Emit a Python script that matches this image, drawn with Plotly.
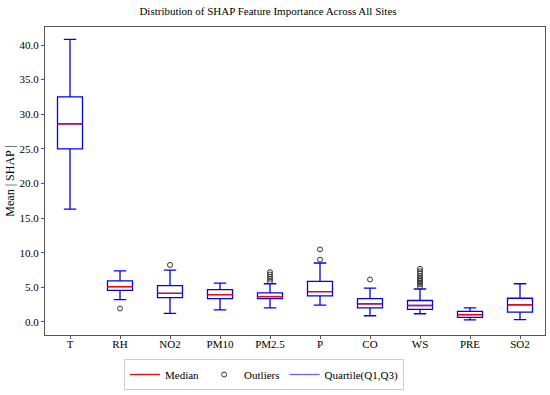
import plotly.graph_objects as go

features = ["T", "RH", "NO2", "PM10", "PM2.5", "P", "CO", "WS", "PRE", "SO2"]
lower_whisker = [16.3, 3.24, 1.24, 1.76, 2.05, 2.43, 0.90, 1.19, 0.29, 0.33]
q1 = [25.0, 4.57, 3.52, 3.38, 3.38, 3.76, 2.05, 1.81, 0.67, 1.43]
median = [28.6, 5.10, 4.14, 3.95, 3.67, 4.38, 2.62, 2.38, 1.05, 2.48]
q3 = [32.5, 5.95, 5.24, 4.67, 4.19, 5.86, 3.38, 3.10, 1.52, 3.43]
upper_whisker = [40.8, 7.38, 7.48, 5.62, 5.52, 8.52, 4.90, 4.76, 2.05, 5.52]
outliers = {
    "RH": [1.95],
    "NO2": [8.24],
    "PM2.5": [7.19, 6.86, 6.52, 6.24, 5.90],
    "P": [9.0, 10.48],
    "CO": [6.14],
    "WS": [7.67, 7.33, 7.0, 6.62, 6.33, 6.14, 5.90, 5.67, 5.43, 5.10],
}
y_ticks = [0, 5, 10, 15, 20, 25, 30, 35, 40]

FONT = "Liberation Serif"
BOX_W = 0.5
pos = list(range(1, len(features) + 1))

fig = go.Figure()
for i, f in enumerate(features):
    fig.add_trace(go.Box(
        x=[pos[i]], q1=[q1[i]], median=[median[i]], q3=[q3[i]],
        lowerfence=[lower_whisker[i]], upperfence=[upper_whisker[i]],
        width=BOX_W, whiskerwidth=0.5, boxpoints=False,
        fillcolor="rgba(255,255,255,0)", line=dict(color="#0000ff", width=1.3),
        showlegend=False, hoverinfo="skip",
    ))

mx, my = [], []
for i, f in enumerate(features):
    mx += [pos[i] - BOX_W / 2, pos[i] + BOX_W / 2, None]
    my += [median[i], median[i], None]
fig.add_trace(go.Scatter(x=mx, y=my, mode="lines", name="Median",
                         line=dict(color="#ff0000", width=1.3)))

ox, oy = [], []
for f, vals in outliers.items():
    p = pos[features.index(f)]
    ox += [p] * len(vals)
    oy += vals
fig.add_trace(go.Scatter(x=ox, y=oy, mode="markers", name="Outliers",
                         marker=dict(symbol="circle-open", size=5,
                                     color="#333333", line=dict(width=1))))

fig.add_trace(go.Scatter(x=[None], y=[None], mode="lines", name="Quartile(Q1,Q3)",
                         line=dict(color="rgba(60,60,255,0.8)", width=1.3)))

fig.update_layout(
    width=550, height=395,
    margin=dict(l=45, r=5, t=27, b=60),
    paper_bgcolor="white", plot_bgcolor="white",
    font=dict(family=FONT, size=11, color="black"),
    title=dict(text="Distribution of SHAP Feature Importance Across All Sites",
               x=268 / 550, xanchor="center", y=1 - 11 / 395, yanchor="middle",
               font=dict(family=FONT, size=11, color="black")),
    xaxis=dict(range=[0.5, 10.5], tickvals=pos, ticktext=features,
               showgrid=False, zeroline=False, showline=True, mirror=True,
               linecolor="#555555", linewidth=1, ticks="outside", ticklen=3,
               tickcolor="#555555", tickfont=dict(size=11), ticklabelstandoff=-4),
    yaxis=dict(range=[-1.88, 42.6], tickvals=y_ticks, tickformat=".1f",
               showgrid=False, zeroline=False, showline=True, mirror=True,
               linecolor="#555555", linewidth=1, ticks="outside", ticklen=3,
               tickcolor="#555555", tickfont=dict(size=11),
               title=dict(text="Mean | SHAP |", font=dict(size=12), standoff=2)),
    legend=dict(orientation="h", x=(264 - 45) / 500, xanchor="center",
                y=-(359 - 335) / 308, yanchor="top", bordercolor="#cccccc", borderwidth=1,
                font=dict(size=11), itemwidth=30, tracegroupgap=0),
)

fig.write_html("out.html", config={"displayModeBar": False},
               post_script="document.body.style.margin='0px';")
